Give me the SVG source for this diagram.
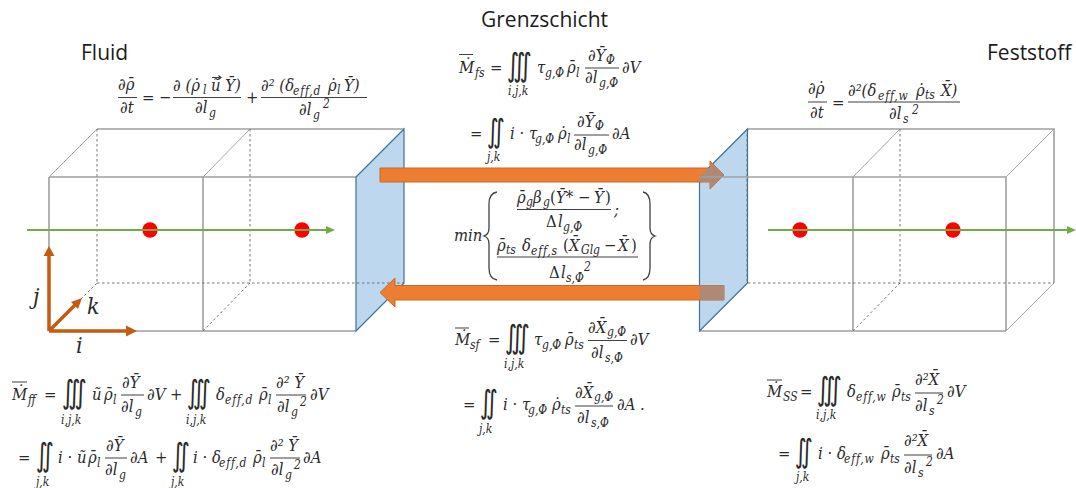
<svg xmlns="http://www.w3.org/2000/svg" width="1076" height="488" viewBox="0 0 1076 488">
<style>
text{fill:#2b2b2b;font-family:"DejaVu Serif","Liberation Serif",serif;font-stretch:condensed}
.h{font-family:"Open Sans","Noto Sans",sans-serif;font-size:21px;font-stretch:normal;fill:#1c1c1c}
.m{font-size:16.500px;font-style:italic}
.r{font-size:16.500px}
.b{font-size:12px;font-style:italic}
.e{font-size:12px;font-style:italic;letter-spacing:.8px}
.i3{font-family:"DejaVu Sans",sans-serif;font-size:32px;font-style:italic}
.ax{font-size:23px;font-style:italic}
.fl{fill:none;stroke:#404040;stroke-width:1.2}
.s{fill:none;stroke:#a0a0a0;stroke-width:1.6}
.t{fill:none;stroke:#a6a6a6;stroke-width:1}
.d{fill:none;stroke:#666;stroke-width:.9;stroke-dasharray:2.5 2.5}
.p{fill:#bdd7ee;stroke:#41719c;stroke-width:1.2}
.a{fill:#ed7d31;stroke:#c8692a;stroke-width:1}
.g{stroke:#70ad47;stroke-width:2.2;fill:none}
.gh{fill:#70ad47}
.dot{fill:#ff0000}
.c{stroke:#c55a11;stroke-width:3.500;fill:none}
.ch{fill:#c55a11}
</style>
<defs>
<clipPath id="rp"><polygon points="699.5,177 747.5,129 747.5,283 699.5,331"/></clipPath>
</defs>
<g id="box-fluid">
<path class="s" d="M49 177H356M49 331H356M49 177V331M203 177V331M97 129H404"/>
<path class="t" d="M49 177L97 129M203 177L250 129"/>
<path class="d" d="M97 129V283M250 129V283M49 331L97 283M203 331L250 283"/>
<polygon class="p" points="356,177 404,129 404,283 356,331"/>
<path class="d" d="M97 283H404"/>
</g>
<g id="box-feststoff">
<path class="s" d="M748 129H1054V283M853 177V331M1006 177V331M699 331H1006"/>
<path class="t" d="M853 177L900 129M1006 177L1054 129M1006 331L1054 283"/>
<path class="d" d="M900 129V283M748 283H1054M853 331L900 283"/>
<polygon class="p" points="699.5,177 747.5,129 747.5,283 699.5,331"/>
<path class="d" d="M747 129V283" />
</g>
<g id="points">
<circle class="dot" cx="150" cy="230" r="7.700"/>
<circle class="dot" cx="302" cy="230" r="7.700"/>
<circle class="dot" cx="800" cy="230" r="7.700"/>
<circle class="dot" cx="953" cy="230" r="7.700"/>
</g>
<g id="connectors">
<polygon class="a" points="380,168 710,168 710,161 724,175 710,189 710,182 380,182"/>
<polygon class="a" points="724,285.500 395,285.500 395,278 380,292.500 395,307 395,300 724,300"/>
<g clip-path="url(#rp)">
<polygon fill="#ae8a75" points="380,168 710,168 710,161 724,175 710,189 710,182 380,182"/>
<polygon fill="#ae8a75" points="724,285.500 395,285.500 395,278 380,292.500 395,307 395,300 724,300"/>
</g>
<path class="s" d="M699 177H1006"/>
<path class="g" d="M27 230H328M768 230H1069"/>
<polygon class="gh" points="335,230 326,226 326,234"/>
<polygon class="gh" points="1076,230 1067,226 1067,234"/>
<path class="c" d="M49 331V252M49 331H130M49 331L77 303"/>
<polygon class="ch" points="49,246 43.500,256 54.500,256"/>
<polygon class="ch" points="137,331 126,325.500 126,336.500"/>
<polygon class="ch" points="82,298 71,302 78,309"/>
</g>
<g id="axis-labels">
<text class="ax" x="33" y="304">j</text>
<text class="ax" x="87" y="314">k</text>
<text class="ax" x="76" y="353">i</text>
</g>
<g id="titles">
<text class="h" x="81" y="60">Fluid</text>
<text class="h" x="481" y="27">Grenzschicht</text>
<text class="h" x="987" y="60">Feststoff</text>
</g>
<g id="eq-fluid-top">
<path class="fl" d="M118 97.500H137M173 97.500H241M261 97.500H367"/>
<path class="fl" d="M212 77.500H221M218.500 75.500L221 77.500L218.500 79.500" stroke-width="1"/>
<text class="m" x="118" y="90">∂ρ̄</text>
<text class="m" x="120" y="113">∂t</text>
<text class="r" x="142" y="103">=</text>
<text class="r" x="159" y="103">−</text>
<text class="m" x="173" y="91">∂ (ρ̇</text>
<text class="b" x="203" y="94">l</text>
<text class="m" x="211" y="91">ũ Ȳ)</text>
<text class="m" x="195" y="113">∂l</text>
<text class="b" x="209" y="117">g</text>
<text class="r" x="246" y="103">+</text>
<text class="m" x="261" y="91">∂² (δ</text>
<text class="e" x="293" y="95">eff,d</text>
<text class="m" x="328" y="91">ρ̇</text>
<text class="b" x="337" y="94">l</text>
<text class="m" x="344" y="91">Ȳ)</text>
<text class="m" x="299" y="115">∂l</text>
<text class="b" x="313" y="119">g</text>
<text class="b" x="323" y="108">2</text>
</g>
<g id="eq-fs">
<path class="fl" d="M585 68H619M459 54.500H473M574 135H609"/>
<text class="m" x="459" y="73">Ṁ</text>
<text class="b" x="475" y="77">fs</text>
<text class="r" x="490" y="73">=</text>
<text class="i3" x="507" y="75.500" textLength="25" lengthAdjust="spacingAndGlyphs">∭</text>
<text class="b" x="508" y="95">i,j,k</text>
<text class="m" x="537" y="73">τ</text>
<text class="b" x="545" y="77">g,Φ</text>
<text class="m" x="567" y="73">ρ̄</text>
<text class="b" x="576" y="77">l</text>
<text class="m" x="588" y="61">∂Ȳ</text>
<text class="b" x="606" y="64">Φ</text>
<text class="m" x="585" y="83">∂l</text>
<text class="b" x="599" y="87">g,Φ</text>
<text class="m" x="622" y="73">∂V</text>
<text class="r" x="470" y="139">=</text>
<text class="i3" x="487" y="141.500" textLength="18" lengthAdjust="spacingAndGlyphs">∬</text>
<text class="b" x="487" y="161">j,k</text>
<text class="m" x="510" y="139">i · τ</text>
<text class="b" x="535" y="143">g,Φ</text>
<text class="m" x="558" y="139">ρ̇</text>
<text class="b" x="567" y="143">l</text>
<text class="m" x="577" y="127">∂Ȳ</text>
<text class="b" x="595" y="130">Φ</text>
<text class="m" x="574" y="150">∂l</text>
<text class="b" x="588" y="154">g,Φ</text>
<text class="m" x="612" y="139">∂A</text>
</g>
<g id="eq-min">
<path class="fl" d="M517 209.500H611M497 257H638"/>
<path fill="none" stroke="#404040" stroke-width="1.300" d="M497 192C491 193 489 197 489 204V228C489 233 487 235 484 236C487 237 489 239 489 244V268C489 275 491 279 497 280"/>
<path fill="none" stroke="#404040" stroke-width="1.300" d="M643 192C648 193 650 197 650 204V228C650 233 652 235 655 236C652 237 650 239 650 244V268C650 275 648 279 643 280"/>
<text class="m" x="454" y="241">min</text>
<text class="m" x="517" y="203">ρ̄</text>
<text class="b" x="526" y="206">g</text>
<text class="m" x="533" y="203">β</text>
<text class="b" x="543" y="206">g</text>
<text class="r" x="550" y="203">(</text>
<text class="m" x="556" y="203">Ȳ*</text>
<text class="r" x="578" y="203">−</text>
<text class="m" x="594" y="203">Ȳ</text>
<text class="r" x="605" y="203">)</text>
<text class="r" x="546" y="227">Δ</text>
<text class="m" x="558" y="227">l</text>
<text class="b" x="563" y="231">g,Φ</text>
<text class="m" x="614" y="215">;</text>
<text class="m" x="497" y="251">ρ̄</text>
<text class="b" x="506" y="254">ts</text>
<text class="m" x="522" y="251">δ</text>
<text class="e" x="531" y="255">eff,s</text>
<text class="r" x="563" y="251">(</text>
<text class="m" x="569" y="251">X̄</text>
<text class="b" x="581" y="254">Glg</text>
<text class="r" x="604" y="251">−</text>
<text class="m" x="618" y="251">X̄</text>
<text class="r" x="631" y="251">)</text>
<text class="r" x="549" y="278">Δ</text>
<text class="m" x="561" y="278">l</text>
<text class="b" x="566" y="282">s,Φ</text>
<text class="b" x="584" y="271">2</text>
</g>
<g id="eq-ff">
<path class="fl" d="M121 395H144M276 395H306M105 458H127M270 458H300M12 382H27"/>
<text class="m" x="12" y="400">Ṁ</text>
<text class="b" x="28" y="404">ff</text>
<text class="r" x="44" y="400">=</text>
<text class="i3" x="62" y="402.500" textLength="25" lengthAdjust="spacingAndGlyphs">∭</text>
<text class="b" x="61" y="424">i,j,k</text>
<text class="m" x="92" y="400">ũ</text>
<text class="m" x="104" y="400">ρ̄</text>
<text class="b" x="113" y="404">l</text>
<text class="m" x="122" y="388">∂Ȳ</text>
<text class="m" x="121" y="412">∂l</text>
<text class="b" x="135" y="416">g</text>
<text class="m" x="147" y="400">∂V</text>
<text class="r" x="170" y="400">+</text>
<text class="i3" x="187" y="402.500" textLength="24" lengthAdjust="spacingAndGlyphs">∭</text>
<text class="b" x="186" y="424">i,j,k</text>
<text class="m" x="216" y="400">δ</text>
<text class="e" x="225" y="404">eff,d</text>
<text class="m" x="259" y="400">ρ̄</text>
<text class="b" x="268" y="404">l</text>
<text class="m" x="276" y="388">∂² Ȳ</text>
<text class="m" x="277" y="412">∂l</text>
<text class="b" x="291" y="416">g</text>
<text class="b" x="300" y="406">2</text>
<text class="m" x="310" y="400">∂V</text>
<text class="r" x="18" y="463">=</text>
<text class="i3" x="36" y="465.500" textLength="18" lengthAdjust="spacingAndGlyphs">∬</text>
<text class="b" x="36" y="486">j,k</text>
<text class="m" x="58" y="463">i · ũ</text>
<text class="m" x="88" y="463">ρ̄</text>
<text class="b" x="97" y="467">l</text>
<text class="m" x="106" y="451">∂Ȳ</text>
<text class="m" x="105" y="475">∂l</text>
<text class="b" x="119" y="479">g</text>
<text class="m" x="130" y="463">∂A</text>
<text class="r" x="155" y="463">+</text>
<text class="i3" x="172" y="465.500" textLength="18" lengthAdjust="spacingAndGlyphs">∬</text>
<text class="b" x="171" y="486">j,k</text>
<text class="m" x="193" y="463">i · δ</text>
<text class="e" x="219" y="467">eff,d</text>
<text class="m" x="253" y="463">ρ̄</text>
<text class="b" x="262" y="467">l</text>
<text class="m" x="270" y="451">∂² Ȳ</text>
<text class="m" x="271" y="475">∂l</text>
<text class="b" x="285" y="479">g</text>
<text class="b" x="294" y="469">2</text>
<text class="m" x="303" y="463">∂A</text>
</g>
<g id="eq-sf">
<path class="fl" d="M588 340.500H627M575 406H613M455 328H469"/>
<text class="m" x="455" y="345">Ṁ</text>
<text class="b" x="470" y="349">sf</text>
<text class="r" x="488" y="345">=</text>
<text class="i3" x="505" y="347.500" textLength="25" lengthAdjust="spacingAndGlyphs">∭</text>
<text class="b" x="504" y="368">i,j,k</text>
<text class="m" x="534" y="345">τ</text>
<text class="b" x="542" y="349">g,Φ</text>
<text class="m" x="565" y="345">ρ̄</text>
<text class="b" x="574" y="349">ts</text>
<text class="m" x="588" y="333">∂X̄</text>
<text class="b" x="607" y="336">g,Φ</text>
<text class="m" x="591" y="358">∂l</text>
<text class="b" x="605" y="362">s,Φ</text>
<text class="m" x="630" y="345">∂V</text>
<text class="r" x="463" y="410">=</text>
<text class="i3" x="480" y="412.500" textLength="18" lengthAdjust="spacingAndGlyphs">∬</text>
<text class="b" x="479" y="433">j,k</text>
<text class="m" x="503" y="410">i · τ</text>
<text class="b" x="528" y="414">g,Φ</text>
<text class="m" x="552" y="410">ρ̇</text>
<text class="b" x="561" y="414">ts</text>
<text class="m" x="575" y="398">∂X̄</text>
<text class="b" x="594" y="401">g,Φ</text>
<text class="m" x="577" y="423">∂l</text>
<text class="b" x="591" y="427">s,Φ</text>
<text class="m" x="617" y="410">∂A .</text>
</g>
<g id="eq-solid-top">
<path class="fl" d="M808 102H827M848 102H960"/>
<text class="m" x="808" y="94">∂ρ̇</text>
<text class="m" x="810" y="118">∂t</text>
<text class="r" x="832" y="108">=</text>
<text class="m" x="848" y="96">∂²(δ</text>
<text class="e" x="878" y="100">eff,w</text>
<text class="m" x="916" y="96">ρ̇</text>
<text class="b" x="925" y="99">ts</text>
<text class="m" x="941" y="96">X̄)</text>
<text class="m" x="889" y="119">∂l</text>
<text class="b" x="903" y="123">s</text>
<text class="b" x="912" y="114">2</text>
</g>
<g id="eq-ss">
<path class="fl" d="M915 393H943M904 455H932M767 380H782"/>
<text class="m" x="767" y="397">Ṁ</text>
<text class="b" x="783" y="401">SS</text>
<text class="r" x="800" y="397">=</text>
<text class="i3" x="817" y="399.500" textLength="25" lengthAdjust="spacingAndGlyphs">∭</text>
<text class="b" x="816" y="419">i,j,k</text>
<text class="m" x="847" y="397">δ</text>
<text class="e" x="856" y="401">eff,w</text>
<text class="m" x="892" y="397">ρ̄</text>
<text class="b" x="901" y="401">ts</text>
<text class="m" x="915" y="385">∂²X̄</text>
<text class="m" x="915" y="411">∂l</text>
<text class="b" x="929" y="415">s</text>
<text class="b" x="937" y="404">2</text>
<text class="m" x="947" y="397">∂V</text>
<text class="r" x="778" y="459">=</text>
<text class="i3" x="795" y="461.500" textLength="18" lengthAdjust="spacingAndGlyphs">∬</text>
<text class="b" x="796" y="481">j,k</text>
<text class="m" x="818" y="459">i · δ</text>
<text class="e" x="844" y="463">eff,w</text>
<text class="m" x="881" y="459">ρ̄</text>
<text class="b" x="890" y="463">ts</text>
<text class="m" x="904" y="446">∂²X̄</text>
<text class="m" x="904" y="473">∂l</text>
<text class="b" x="918" y="477">s</text>
<text class="b" x="926" y="466">2</text>
<text class="m" x="936" y="459">∂A</text>
</g>
</svg>
